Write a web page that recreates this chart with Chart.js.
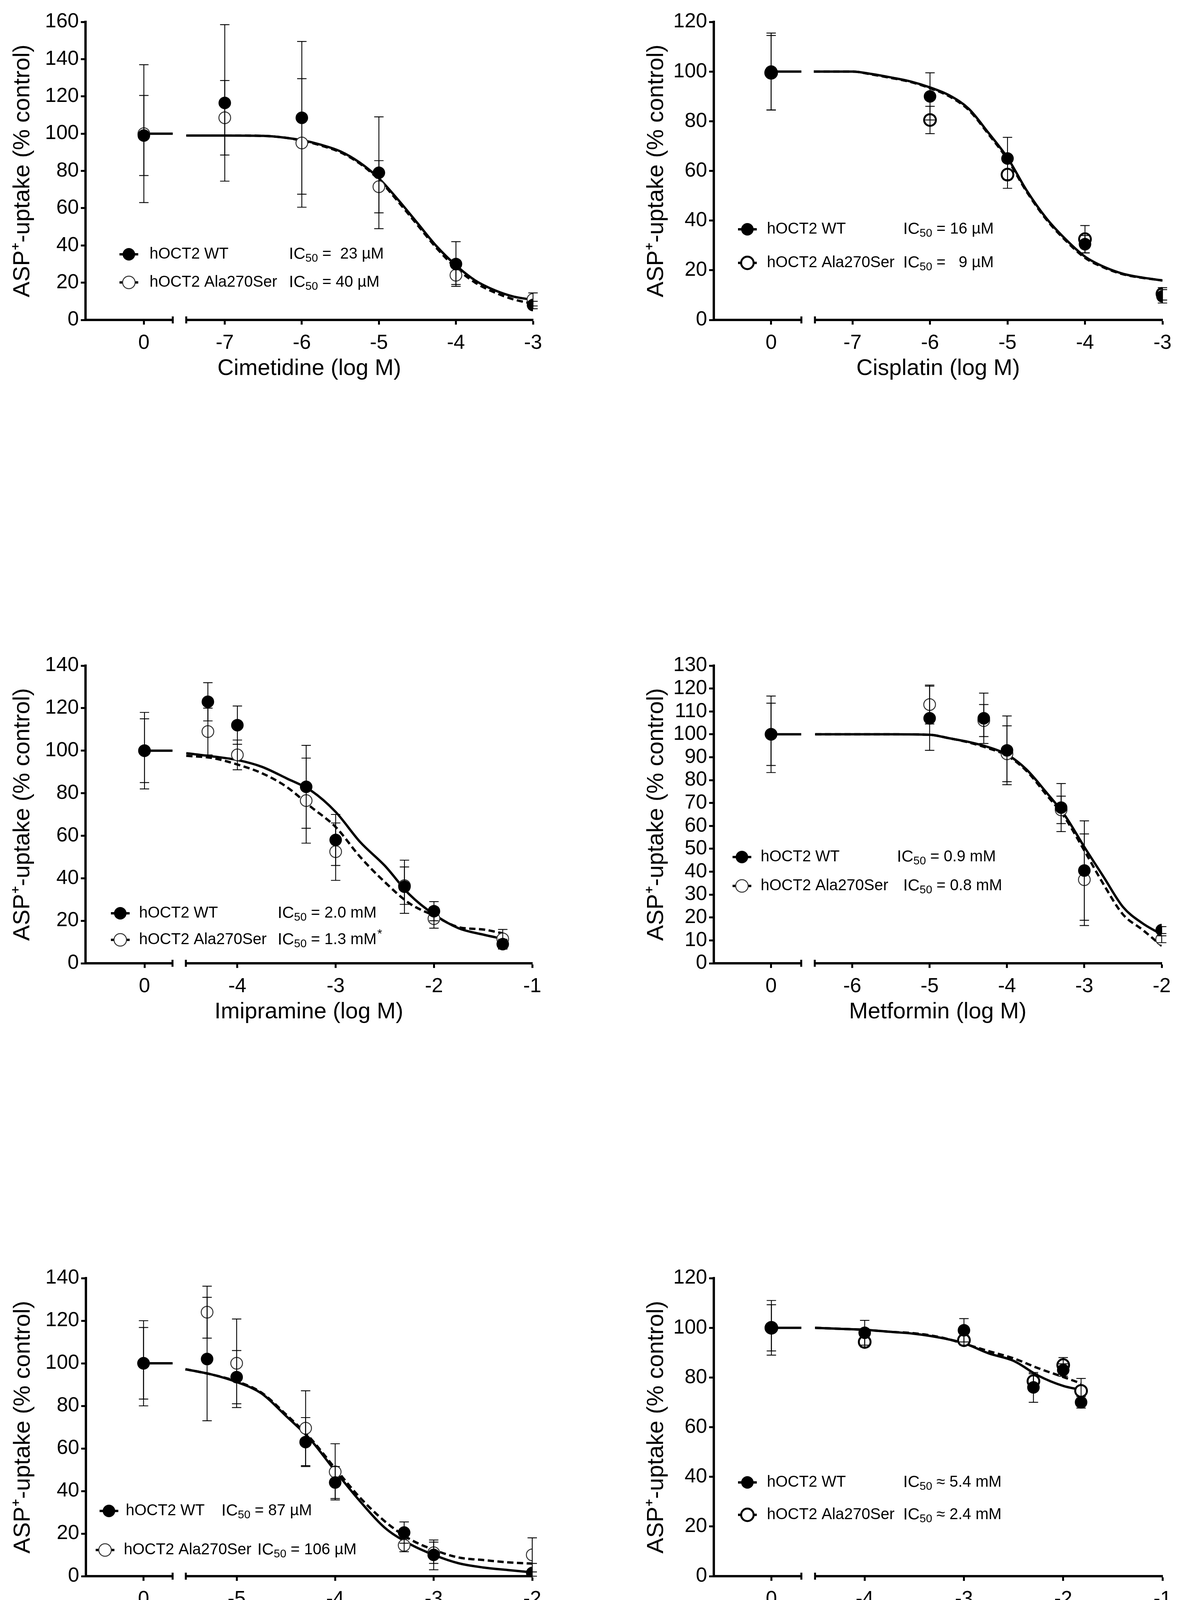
<!DOCTYPE html>
<html>
<head>
<meta charset="utf-8">
<script src="https://cdn.jsdelivr.net/npm/chart.js@4.4.1/dist/chart.umd.min.js"></script>
<style>
  html, body { margin: 0; padding: 0; background: #fff; }
  body { width: 3027px; height: 4208px; position: relative; overflow: hidden; }
  canvas { position: absolute; }
</style>
</head>
<body>
<canvas id="c1"></canvas>
<canvas id="c2"></canvas>
<canvas id="c3"></canvas>
<canvas id="c4"></canvas>
<canvas id="c5"></canvas>
<canvas id="c6"></canvas>
<script>
// valores (dose 0 = controle, sem substância)
const ctrlLevel = 100;

// Cimetidine
const cimDoses = [0, -7, -6, -5, -4, -3];
const cimTicks = [0, -7, -6, -5, -4, -3];
const cimWT = [99, 116.5, 108.5, 79, 30, 8];
const cimWTerr = [21.5, 42, 41, 30, 12, 2];
const cimAla = [100, 108.5, 95, 71.5, 24, 11];
const cimAlaErr = [37, 20, 34.5, 14, 5, 3.5];
const cimCurveX = [-7.5, -7, -6.5, -6.25, -6, -5.75, -5.5, -5.25, -5, -4.75, -4.5, -4.25, -4, -3.75, -3.5, -3.25, -3];
const cimCurveWT = [99, 99, 98.8, 98, 96.5, 94, 90.5, 84.5, 76, 64.5, 52, 39.5, 29.3, 21.2, 16, 12.5, 10.8];
const cimCurveAla = [99, 99, 98.8, 98, 96.3, 93.6, 90, 84, 75.3, 63.5, 51, 38.5, 28, 20, 14.8, 11, 8.7];
const cimIC = [' =  23 µM', ' = 40 µM'];

// Cisplatin
const cisDoses = [0, -6, -5, -4, -3];
const cisTicks = [0, -7, -6, -5, -4, -3];
const cisWT = [100, 90, 65, 30.5, 9.5];
const cisWTerr = [15.5, 9.5, 8.5, 3.5, 2.7];
const cisAla = [99.5, 80.5, 58.5, 32.5, 10.5];
const cisAlaErr = [15, 5.5, 5.5, 5.5, 2.5];
const cisCurveX = [-7.5, -7, -6.75, -6.5, -6.25, -6, -5.75, -5.5, -5.25, -5, -4.75, -4.5, -4.25, -4, -3.75, -3.5, -3.25, -3];
const cisCurveWT = [100, 100, 99, 97.6, 96, 93.6, 90.4, 85, 75.5, 65.3, 52, 41, 32.5, 25.5, 21.3, 18.5, 17, 15.9];
const cisCurveAla = [100, 100, 98.8, 97.4, 95.8, 93.3, 90, 84.5, 75, 64.6, 51.5, 40.5, 32, 25, 21, 18.3, 16.9, 15.9];
const cisIC = [' = 16 µM', ' =   9 µM'];

// Imipramine
const imiDoses = [0, -4.3, -4, -3.3, -3, -2.3, -2, -1.3];
const imiTicks = [0, -4, -3, -2, -1];
const imiWT = [100, 123, 112, 83, 58, 36, 24.5, 9];
const imiWTerr = [15, 9, 9, 19.5, 12, 12.5, 4.5, 2.3];
const imiAla = [100, 109, 98, 76.5, 52.5, 36.5, 21, 11.5];
const imiAlaErr = [18, 11, 7, 20, 13.5, 8.8, 4.5, 4.4];
const imiCurveX = [-4.52, -4.25, -4, -3.75, -3.5, -3.25, -3, -2.75, -2.5, -2.25, -2, -1.75, -1.5, -1.3];
const imiCurveWT = [98.8, 97.3, 95.6, 92.4, 87, 81.2, 71.2, 57, 45.9, 32.4, 23, 16.5, 13.5, 11.5];
const imiCurveAla = [97.6, 96.5, 93.5, 89.4, 83, 73.5, 64.1, 50, 38.2, 28.2, 22.4, 17, 15.9, 14.1];
const imiIC = [' = 2.0 mM', ' = 1.3 mM*'];

// Metformin
const metDoses = [0, -5, -4.3, -4, -3.3, -3, -2];
const metTicks = [0, -6, -5, -4, -3, -2];
const metWT = [100, 107, 107, 93, 68, 40.5, 14.5];
const metWTerr = [13.6, 14, 11, 15, 10.5, 21.7, 1.5];
const metAla = [100, 113, 106, 91.5, 67, 36.5, 10.5];
const metAlaErr = [16.7, 8.5, 7, 12.2, 6, 20, 1.5];
const metCurveX = [-6.48, -5.5, -5, -4.75, -4.5, -4.25, -4, -3.75, -3.5, -3.25, -3, -2.75, -2.5, -2.25, -2];
const metCurveWT = [100, 100, 99.8, 98.3, 96.7, 94.5, 91.2, 84.7, 75, 64.5, 50.8, 37.7, 24.6, 17.5, 12.6];
const metCurveAla = [100, 100, 99.8, 98.3, 96.5, 94, 90.7, 84.1, 74, 63.5, 49.2, 34.4, 21.3, 14.7, 7.6];
const metIC = [' = 0.9 mM', ' = 0.8 mM'];

// Thiamin
const thiDoses = [0, -5.3, -5, -4.3, -4, -3.3, -3, -2];
const thiTicks = [0, -5, -4, -3, -2];
const thiWT = [100, 102, 93.5, 63, 44, 20.5, 10, 1.5];
const thiWTerr = [16.8, 29, 12.5, 11.5, 7.5, 5, 7, 4.5];
const thiAla = [100, 124, 100, 69.5, 49, 14.5, 11, 10];
const thiAlaErr = [20, 12.2, 20.8, 17.6, 13.2, 3, 5, 8];
const thiCurveX = [-5.52, -5.25, -5, -4.75, -4.5, -4.25, -4, -3.75, -3.5, -3.25, -3, -2.75, -2.5, -2.25, -2];
const thiCurveWT = [97.2, 94.7, 91.2, 85.9, 75.3, 64.1, 49.4, 35.3, 22.9, 15.3, 10, 6.1, 4.1, 2.9, 1.8];
const thiCurveAla = [97.2, 94.7, 91.5, 86.3, 76, 64.7, 50.6, 37, 25.9, 17.6, 12.4, 8.8, 7.6, 6.5, 5.9];
const thiIC = [' = 87 µM', ' = 106 µM'];

// Tryptophan
const tryDoses = [0, -4, -3, -2.3, -2, -1.82];
const tryTicks = [0, -4, -3, -2, -1];
const tryWT = [100, 98, 99, 76, 83, 70];
const tryWTerr = [9.3, 5, 4.7, 6, 2.5, 2.3];
const tryAla = [100, 94.3, 95, 78.5, 85, 74.6];
const tryAlaErr = [11, 2, 2, 3, 3, 5];
const tryCurveX = [-4.5, -4.25, -4, -3.75, -3.5, -3.25, -3, -2.75, -2.5, -2.25, -2, -1.82];
const tryCurveWT = [100, 99.6, 99.2, 98.4, 97.6, 96.1, 93.8, 89.7, 86.7, 80.7, 76.6, 75];
const tryCurveAla = [100, 99.6, 99.2, 98.4, 97.8, 96.3, 93.6, 90.6, 87.7, 83.7, 80.2, 77.6];
const tryIC = [' ≈ 5.4 mM', ' ≈ 2.4 mM'];

const FONT = '"Liberation Sans", Arial, sans-serif';
const Y_TITLE = 'ASP⁺-uptake (% control)';
const NAMES = ['hOCT2 WT', 'hOCT2 Ala270Ser'];

const panels = [
  { id: 'c1', axisX: 219, top: 56, w: 1146, h: 763, xMin: -8.807, xMax: -3, ctrl: -8.05, gap: [-7.675, -7.5],
    yMax: 160, yStep: 20, title: 'Cimetidine (log M)', yTitleOff: 161, bold: false,
    doses: cimDoses, ticks: cimTicks, wt: cimWT, wtErr: cimWTerr, ala: cimAla, alaErr: cimAlaErr,
    cx: cimCurveX, cwt: cimCurveWT, cala: cimCurveAla, ic: cimIC,
    leg: { dy: [595, 667], mx: [111, 111], tx: [164, 164], ix: [521, 521] } },
  { id: 'c2', axisX: 1828, top: 56, w: 1149, h: 763, xMin: -8.79, xMax: -3, ctrl: -8.05, gap: [-7.66, -7.485],
    yMax: 120, yStep: 20, title: 'Cisplatin (log M)', yTitleOff: 147, bold: true,
    doses: cisDoses, ticks: cisTicks, wt: cisWT, wtErr: cisWTerr, ala: cisAla, alaErr: cisAlaErr,
    cx: cisCurveX, cwt: cisCurveWT, cala: cisCurveAla, ic: cisIC,
    leg: { dy: [531, 617], mx: [86, 86], tx: [136, 136], ix: [485, 485] } },
  { id: 'c3', axisX: 219, top: 1704, w: 1144, h: 762, xMin: -5.545, xMax: -1, ctrl: -4.945, gap: [-4.66, -4.524],
    yMax: 140, yStep: 20, title: 'Imipramine (log M)', yTitleOff: 161, bold: false,
    doses: imiDoses, ticks: imiTicks, wt: imiWT, wtErr: imiWTerr, ala: imiAla, alaErr: imiAlaErr,
    cx: imiCurveX, cwt: imiCurveWT, cala: imiCurveAla, ic: imiIC,
    leg: { dy: [634, 702], mx: [89, 89], tx: [137, 137], ix: [492, 492] } },
  { id: 'c4', axisX: 1828, top: 1704, w: 1147, h: 762, xMin: -7.79, xMax: -2, ctrl: -7.05, gap: [-6.66, -6.485],
    yMax: 130, yStep: 10, title: 'Metformin (log M)', yTitleOff: 147, bold: false,
    doses: metDoses, ticks: metTicks, wt: metWT, wtErr: metWTerr, ala: metAla, alaErr: metAlaErr,
    cx: metCurveX, cwt: metCurveWT, cala: metCurveAla, ic: metIC,
    leg: { dy: [490, 564], mx: [72, 72], tx: [120, 120], ix: [469, 485] } },
  { id: 'c5', axisX: 220, top: 3272, w: 1143, h: 763, xMin: -6.53, xMax: -2, ctrl: -5.945, gap: [-5.65, -5.516],
    yMax: 140, yStep: 20, title: 'Thiamin (log M)', yTitleOff: 161, bold: false,
    doses: thiDoses, ticks: thiTicks, wt: thiWT, wtErr: thiWTerr, ala: thiAla, alaErr: thiAlaErr,
    cx: thiCurveX, cwt: thiCurveWT, cala: thiCurveAla, ic: thiIC,
    leg: { dy: [596, 696], mx: [59, 49], tx: [102, 97], ix: [347, 439] } },
  { id: 'c6', axisX: 1828, top: 3272, w: 1149, h: 763, xMin: -5.52, xMax: -1, ctrl: -4.94, gap: [-4.638, -4.5],
    yMax: 120, yStep: 20, title: 'Tryptophan (log M)', yTitleOff: 147, bold: true,
    doses: tryDoses, ticks: tryTicks, wt: tryWT, wtErr: tryWTerr, ala: tryAla, alaErr: tryAlaErr,
    cx: tryCurveX, cwt: tryCurveWT, cala: tryCurveAla, ic: tryIC,
    leg: { dy: [523, 606], mx: [86, 86], tx: [136, 136], ix: [485, 485] } }
];

const Y_W = 210, PAD_T = 40, PAD_R = 50, X_H = 160;

function drawErrBars(chart, p) {
  const ctx = chart.ctx, xs = chart.scales.x, ys = chart.scales.y;
  const toX = d => d === 0 ? p.ctrl : d;
  ctx.save();
  ctx.strokeStyle = '#000';
  ctx.lineWidth = 2.2;
  [[p.wt, p.wtErr], [p.ala, p.alaErr]].forEach(([vals, errs]) => {
    vals.forEach((v, i) => {
      const e = errs[i];
      if (!e) return;
      const px = xs.getPixelForValue(toX(p.doses[i]));
      const y1 = ys.getPixelForValue(v + e);
      const y2 = ys.getPixelForValue(Math.max(v - e, 0));
      ctx.beginPath();
      ctx.moveTo(px, y1); ctx.lineTo(px, y2);
      ctx.moveTo(px - 12, y1); ctx.lineTo(px + 12, y1);
      ctx.moveTo(px - 12, y2); ctx.lineTo(px + 12, y2);
      ctx.stroke();
    });
  });
  ctx.restore();
}

function drawBreak(chart, p) {
  const ctx = chart.ctx, xs = chart.scales.x;
  const b = chart.chartArea.bottom;
  const xa = xs.getPixelForValue(p.gap[0]), xb = xs.getPixelForValue(p.gap[1]);
  ctx.save();
  ctx.fillStyle = '#fff';
  ctx.fillRect(xa, b - 6, xb - xa, 12);
  ctx.strokeStyle = '#000';
  ctx.lineWidth = 5;
  ctx.beginPath();
  ctx.moveTo(xa, b - 9); ctx.lineTo(xa, b + 9);
  ctx.moveTo(xb, b - 9); ctx.lineTo(xb, b + 9);
  ctx.stroke();
  ctx.restore();
}

function drawLegend(chart, p) {
  const ctx = chart.ctx, a = chart.chartArea, L = p.leg;
  for (let k = 0; k < 2; k++) {
    const y = a.top + L.dy[k];
    const mx = a.left + L.mx[k];
    ctx.save();
    ctx.strokeStyle = '#000';
    ctx.lineWidth = 6;
    ctx.setLineDash(k ? [13, 7] : []);
    ctx.beginPath(); ctx.moveTo(mx - 24, y); ctx.lineTo(mx + 24, y); ctx.stroke();
    ctx.setLineDash([]);
    ctx.beginPath(); ctx.arc(mx, y, 16, 0, 2 * Math.PI);
    if (k) {
      ctx.fillStyle = '#fff'; ctx.fill();
      ctx.lineWidth = p.bold ? 5 : 2.5;
      ctx.strokeStyle = p.bold ? '#000' : '#333';
      ctx.stroke();
    } else {
      ctx.fillStyle = '#000'; ctx.fill();
    }
    ctx.fillStyle = '#000';
    ctx.textBaseline = 'middle';
    ctx.font = '40px ' + FONT;
    ctx.fillText(NAMES[k], a.left + L.tx[k], y);
    let x = a.left + L.ix[k];
    ctx.font = '42px ' + FONT;
    ctx.fillText('IC', x, y); x += ctx.measureText('IC').width;
    ctx.font = '29px ' + FONT;
    ctx.fillText('50', x, y + 11); x += ctx.measureText('50').width;
    ctx.font = '40px ' + FONT;
    let txt = p.ic[k], star = false;
    if (txt.endsWith('*')) { txt = txt.slice(0, -1); star = true; }
    ctx.fillText(txt, x, y); x += ctx.measureText(txt).width;
    if (star) { ctx.font = '32px ' + FONT; ctx.fillText('*', x + 2, y - 14); }
    ctx.restore();
  }
}

panels.forEach(p => {
  const cv = document.getElementById(p.id);
  cv.width = Y_W + p.w + PAD_R;
  cv.height = PAD_T + p.h + X_H;
  cv.style.left = (p.axisX - Y_W) + 'px';
  cv.style.top = (p.top - PAD_T) + 'px';
  const toX = d => d === 0 ? p.ctrl : d;
  const pts = vals => p.doses.map((d, i) => ({ x: toX(d), y: vals[i] }));
  const curve = vals => p.cx.map((x, i) => ({ x: x, y: vals[i] }));

  new Chart(cv, {
    type: 'scatter',
    data: {
      datasets: [
        { data: pts(p.wt), pointRadius: 16, pointBackgroundColor: '#000', pointBorderWidth: 0, showLine: false },
        { data: pts(p.ala), pointRadius: 15, pointBackgroundColor: '#fff',
          pointBorderColor: p.bold ? '#000' : '#333', pointBorderWidth: p.bold ? 5 : 2.5, showLine: false },
        { type: 'line', data: [{ x: p.ctrl, y: ctrlLevel }, { x: p.gap[0], y: ctrlLevel }],
          borderColor: '#000', borderWidth: 6, pointRadius: 0 },
        { type: 'line', data: curve(p.cwt), borderColor: '#000', borderWidth: 6, pointRadius: 0,
          cubicInterpolationMode: 'monotone' },
        { type: 'line', data: curve(p.cala), borderColor: '#000', borderWidth: 6, pointRadius: 0,
          borderDash: [16, 9], cubicInterpolationMode: 'monotone' }
      ]
    },
    options: {
      responsive: false,
      animation: false,
      devicePixelRatio: 1,
      layout: { padding: { top: PAD_T, right: PAD_R, left: 0, bottom: 0 } },
      plugins: { legend: { display: false }, tooltip: { enabled: false } },
      scales: {
        x: {
          type: 'linear', min: p.xMin, max: p.xMax,
          afterFit: s => { s.height = X_H; },
          afterBuildTicks: s => { s.ticks = p.ticks.map(v => ({ value: toX(v) })); },
          ticks: {
            callback: v => v === p.ctrl ? '0' : String(v),
            autoSkip: false, maxRotation: 0, padding: 16, color: '#000',
            font: { family: FONT, size: 52 }
          },
          grid: { drawOnChartArea: false, drawTicks: true, tickLength: 12, tickWidth: 5, tickColor: '#000' },
          border: { display: true, width: 6, color: '#000' },
          title: { display: true, text: p.title, color: '#000', padding: 0, font: { family: FONT, size: 58 } }
        },
        y: {
          min: 0, max: p.yMax,
          afterFit: s => { s.width = Y_W; },
          ticks: { stepSize: p.yStep, maxTicksLimit: 30, autoSkip: false, padding: 5, color: '#000',
            font: { family: FONT, size: 52 } },
          grid: { drawOnChartArea: false, drawTicks: true, tickLength: 12, tickWidth: 5, tickColor: '#000' },
          border: { display: true, width: 6, color: '#000' },
          title: { display: true, text: Y_TITLE, color: '#000',
            padding: { top: Y_W - p.yTitleOff - 36, bottom: 0 }, font: { family: FONT, size: 60 } }
        }
      }
    },
    plugins: [{
      id: 'decor',
      afterDatasetsDraw: chart => drawErrBars(chart, p),
      afterDraw: chart => { drawBreak(chart, p); drawLegend(chart, p); }
    }]
  });
});
</script>
</body>
</html>
